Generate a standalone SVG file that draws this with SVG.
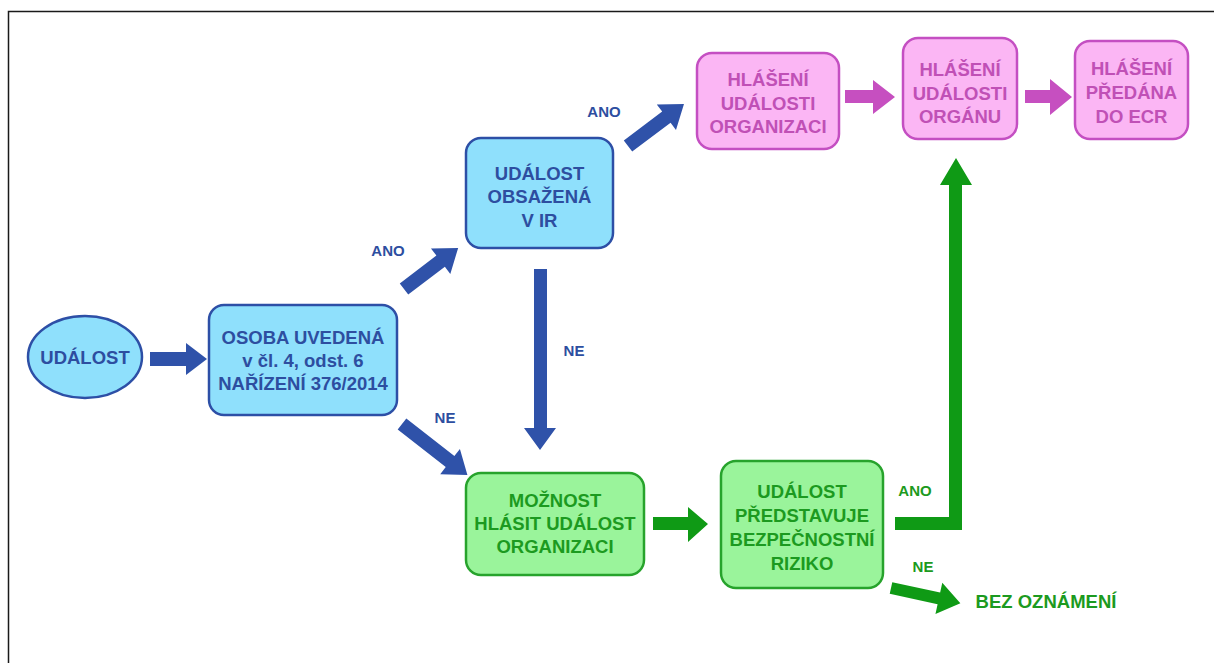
<svg xmlns="http://www.w3.org/2000/svg" width="1214" height="663" viewBox="0 0 1214 663">
<style>
text{font-family:"Liberation Sans",Arial,sans-serif;font-weight:bold;text-anchor:middle}
.t{font-size:18.5px}
.l{font-size:15px}
.blue rect,.blue ellipse{fill:#8fe0fc;stroke:#2d4fa6;stroke-width:2.5}
.blue text{fill:#2d4ea0}
.pink rect{fill:#fbb6f4;stroke:#c44fc2;stroke-width:2.5}
.pink text{fill:#c050b6}
.green rect{fill:#9af49b;stroke:#27a32c;stroke-width:2.5}
.green text{fill:#1c9a20}
.ab{fill:#2f52a9}
.ap{fill:#c64fc0}
.ag{fill:#0f9a15}
.lb{fill:#2d4ea0}
.lg{fill:#1c9a20}
</style>
<rect width="1214" height="663" fill="#ffffff"/>
<path d="M8.5 663V11.5H1214" fill="none" stroke="#1a1a1a" stroke-width="1.5"/>

<g id="connectors">
  <polygon class="ab" points="150,352 186,352 186,343 207,359 186,375 186,366 150,366"/>
  <polygon class="ab" transform="translate(404,289) rotate(-37.2)" points="0,-7 46,-7 46,-16 68,0 46,16 46,7 0,7"/>
  <polygon class="ab" transform="translate(628,146) rotate(-36.9)" points="0,-7 48,-7 48,-16 70,0 48,16 48,7 0,7"/>
  <polygon class="ab" transform="translate(402,424) rotate(38)" points="0,-7 61,-7 61,-16 83,0 61,16 61,7 0,7"/>
  <polygon class="ab" points="534,269 547,269 547,428 556,428 540,450 524,428 534,428"/>
  <polygon class="ap" points="845,90 873,90 873,80 895,97 873,114 873,103 845,103"/>
  <polygon class="ap" points="1025,90 1050,90 1050,79 1072,97 1050,115 1050,103 1025,103"/>
  <polygon class="ag" points="653,517 688,517 688,507 708,524 688,542 688,530 653,530"/>
  <polygon class="ag" points="895,517 949,517 949,185 940,185 956,158 972,185 962,185 962,530 895,530"/>
  <polygon class="ag" transform="translate(891,588) rotate(12.3)" points="0,-6 49,-6 49,-16 71,0 49,16 49,6 0,6"/>
  <text class="l lb" x="388" y="256">ANO</text>
  <text class="l lb" x="604" y="117">ANO</text>
  <text class="l lb" x="574" y="356">NE</text>
  <text class="l lb" x="445" y="423">NE</text>
  <text class="l lg" x="915" y="496">ANO</text>
  <text class="l lg" x="923" y="572">NE</text>
</g>

<g id="udalost" class="blue">
  <ellipse cx="85" cy="357" rx="57" ry="41"/>
  <text class="t" x="85" y="364">UDÁLOST</text>
</g>

<g id="osoba" class="blue">
  <rect x="209" y="305" width="188" height="110" rx="15"/>
  <text class="t" x="303" y="344">OSOBA UVEDENÁ</text>
  <text class="t" x="303" y="367">v čl. 4, odst. 6</text>
  <text class="t" x="303" y="390">NAŘÍZENÍ 376/2014</text>
</g>

<g id="obsazena" class="blue">
  <rect x="466" y="138" width="147" height="110" rx="15"/>
  <text class="t" x="539.5" y="180">UDÁLOST</text>
  <text class="t" x="539.5" y="203">OBSAŽENÁ</text>
  <text class="t" x="539.5" y="227">V IR</text>
</g>

<g id="hlaseni-organizaci" class="pink">
  <rect x="697" y="53" width="142" height="96" rx="15"/>
  <text class="t" x="768" y="86">HLÁŠENÍ</text>
  <text class="t" x="768" y="110">UDÁLOSTI</text>
  <text class="t" x="768" y="133">ORGANIZACI</text>
</g>

<g id="hlaseni-organu" class="pink">
  <rect x="903" y="38" width="114" height="101" rx="15"/>
  <text class="t" x="960" y="76">HLÁŠENÍ</text>
  <text class="t" x="960" y="100">UDÁLOSTI</text>
  <text class="t" x="960" y="123">ORGÁNU</text>
</g>

<g id="predana-ecr" class="pink">
  <rect x="1075" y="41" width="113" height="98" rx="15"/>
  <text class="t" x="1131.5" y="75">HLÁŠENÍ</text>
  <text class="t" x="1131.5" y="99">PŘEDÁNA</text>
  <text class="t" x="1131.5" y="123">DO ECR</text>
</g>

<g id="moznost" class="green">
  <rect x="466" y="473" width="178" height="102" rx="15"/>
  <text class="t" x="555" y="507">MOŽNOST</text>
  <text class="t" x="555" y="530">HLÁSIT UDÁLOST</text>
  <text class="t" x="555" y="553">ORGANIZACI</text>
</g>

<g id="riziko" class="green">
  <rect x="721" y="461" width="162" height="127" rx="15"/>
  <text class="t" x="802" y="498">UDÁLOST</text>
  <text class="t" x="802" y="522">PŘEDSTAVUJE</text>
  <text class="t" x="802" y="546">BEZPEČNOSTNÍ</text>
  <text class="t" x="802" y="570">RIZIKO</text>
</g>

<g id="bez-oznameni" class="green">
  <text class="t" x="1046" y="608">BEZ OZNÁMENÍ</text>
</g>
</svg>
